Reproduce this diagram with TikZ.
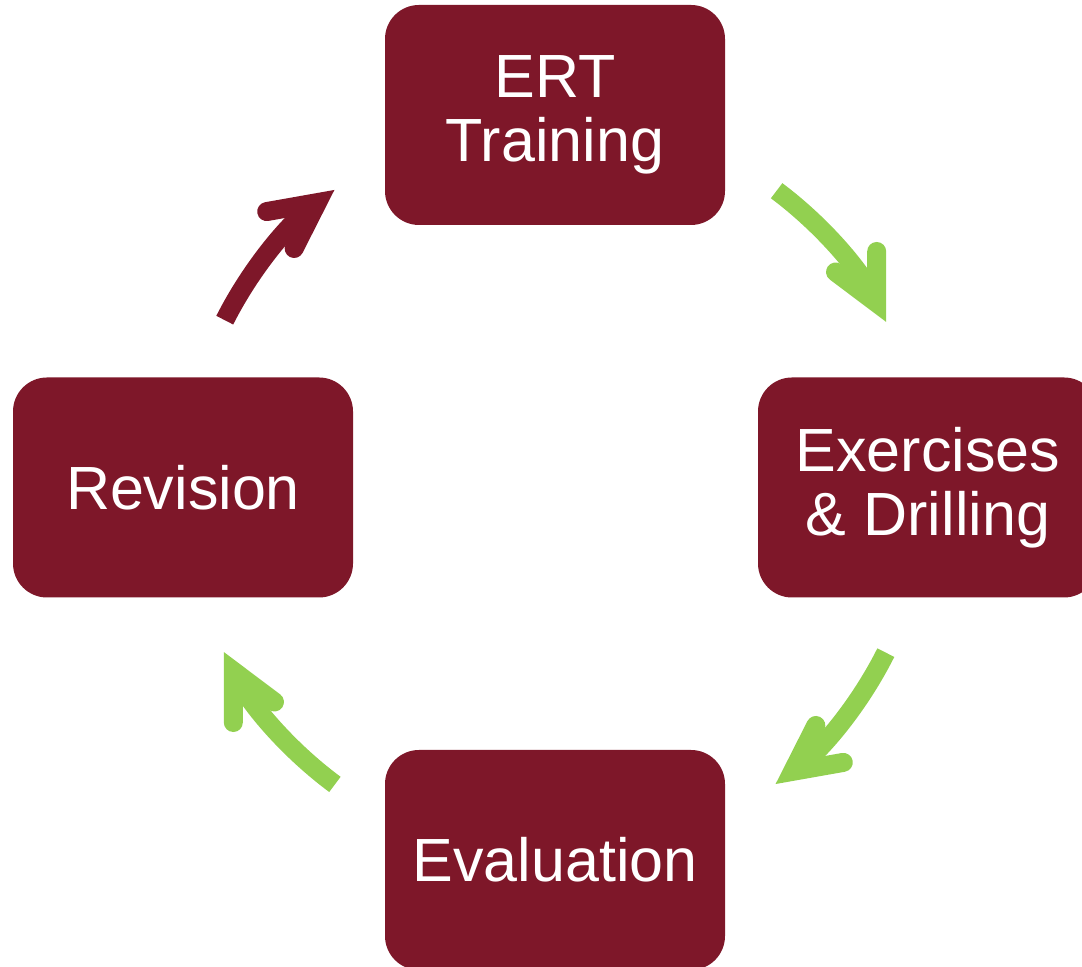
\documentclass[tikz,border=0pt]{standalone}
\usepackage{fontspec}
\setmainfont{Liberation Sans}
\usetikzlibrary{arrows.meta}
\definecolor{maroon}{RGB}{126,23,41}
\definecolor{leaf}{RGB}{146,208,80}
\tikzset{
  stage/.style={fill=maroon, text=white, rounded corners=17pt, align=center,
    minimum width=170pt, minimum height=110pt, inner sep=0pt,
    font=\fontsize{30.5}{32}\selectfont},
  cyclearrow/.style={line width=9.5pt,
    -{Straight Barb[length=23pt, width=23pt, line cap=round, line join=miter]}}
}
\begin{document}
\begin{tikzpicture}[x=0.5pt, y=0.5pt]
\useasboundingbox (0,0) rectangle (1082,967);
\coordinate (hub) at (555,480);
% the four stages
\node[stage] (ert)  at (555,852)   {ERT\\Training};
\node[stage] (exer) at (928,479.5) {Exercises\\\& Drilling};
\node[stage] (eval) at (555,107)   {Evaluation};
\node[stage] (rev)  at (183,479.5) {Revision};
% arrow starts on the circle round the hub
\path (hub) ++(153.2:185pt) coordinate (revout);
\path (hub) ++(53.2:185pt)  coordinate (ertout);
\path (hub) ++(-26.6:185pt) coordinate (exerout);
\path (hub) ++(-126.5:185pt) coordinate (evalout);
\draw[cyclearrow, maroon] (revout)  arc[start angle=153.2, end angle=126.6, radius=185pt];
\draw[cyclearrow, leaf]   (ertout)  arc[start angle=53.2, end angle=26.5, radius=185pt];
\draw[cyclearrow, leaf]   (exerout) arc[start angle=-26.6, end angle=-53.4, radius=185pt];
\draw[cyclearrow, leaf]   (evalout) arc[start angle=-126.5, end angle=-153.5, radius=185pt];
\end{tikzpicture}
\end{document}
